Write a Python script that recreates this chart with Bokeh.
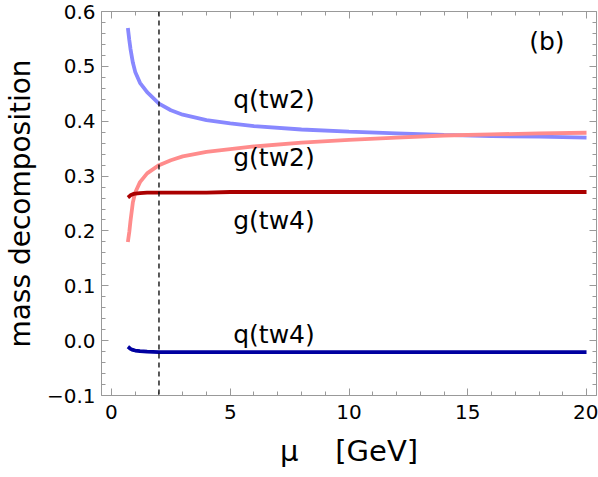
from bokeh.plotting import figure
from bokeh.models import Range1d, SingleIntervalTicker, LinearAxis, Label, Span, CustomJSTickFormatter
from bokeh.embed import file_html
from bokeh.resources import INLINE

# ---- data ----
mu = [0.69, 0.75, 0.8, 0.9, 1.0, 1.2, 1.5, 2.0, 2.5, 3.0, 4.0, 5.0, 6.0, 8.0, 10.0, 12.0, 14.0, 16.0, 18.0, 20.0]
q_tw2 = [0.570, 0.548, 0.532, 0.507, 0.490, 0.470, 0.453, 0.432, 0.420, 0.412, 0.402, 0.396, 0.391, 0.385, 0.381, 0.378, 0.375, 0.373, 0.372, 0.370]
g_tw2 = [0.180, 0.198, 0.218, 0.252, 0.270, 0.289, 0.305, 0.320, 0.329, 0.336, 0.344, 0.349, 0.354, 0.361, 0.366, 0.370, 0.374, 0.376, 0.378, 0.379]
g_tw4 = [0.261, 0.263, 0.265, 0.267, 0.268, 0.269, 0.270, 0.270, 0.270, 0.270, 0.270, 0.271, 0.271, 0.271, 0.271, 0.271, 0.271, 0.271, 0.271, 0.271]
q_tw4 = [-0.011, -0.013, -0.015, -0.017, -0.018, -0.019, -0.020, -0.021, -0.021, -0.021, -0.021, -0.021, -0.021, -0.021, -0.021, -0.021, -0.021, -0.021, -0.021, -0.021]
mu_ref = 2.0
series_names = ["q(tw2)", "g(tw2)", "g(tw4)", "q(tw4)"]
label_pos = [(5.125, 0.440), (5.125, 0.334), (5.125, 0.219), (5.125, 0.012)]
colors = ["#8888FF", "#FF8C8C", "#AA0000", "#0000A0"]
x_title = "\u03bc\u00a0\u00a0\u00a0\u00a0[GeV]"
y_title = "mass decomposition"
panel_tag = "(b)"

FONT = "DejaVu Sans"
GREY = "#999999"

p = figure(width=598, height=475, output_backend="svg", toolbar_location=None,
           x_range=Range1d(-0.42, 20.42), y_range=Range1d(-0.1, 0.6001),
           min_border_left=95, min_border_right=2, min_border_top=11, min_border_bottom=80)
p.grid.visible = False
p.outline_line_color = None
p.background_fill_color = "white"

fmt = CustomJSTickFormatter(code="""
var v = Math.abs(tick) < 1e-9 ? 0 : tick;
return (v < 0 ? '\u2212' : '') + Math.abs(v).toFixed(1);
""")
blank = CustomJSTickFormatter(code="return '';")

def style(ax, show_labels):
    ax.axis_line_color = GREY
    ax.major_tick_line_color = GREY
    ax.minor_tick_line_color = GREY
    ax.major_tick_in = 7
    ax.major_tick_out = 0
    ax.minor_tick_in = 4
    ax.minor_tick_out = 0
    if show_labels:
        ax.major_label_text_font = FONT
        ax.major_label_text_font_size = "20px"
        ax.major_label_text_color = "black"
        ax.axis_label_text_font = FONT
        ax.axis_label_text_font_style = "normal"
        ax.axis_label_text_color = "black"
    else:
        ax.formatter = blank
        ax.major_label_text_font_size = "8px"
        ax.major_label_standoff = 0

p.xaxis.ticker = SingleIntervalTicker(interval=5, num_minor_ticks=5)
p.yaxis.ticker = SingleIntervalTicker(interval=0.1, num_minor_ticks=5)
p.yaxis.formatter = fmt
style(p.xaxis[0], True)
style(p.yaxis[0], True)
p.xaxis[0].major_label_standoff = 9
p.yaxis[0].major_label_standoff = 6
p.xaxis[0].axis_label = x_title
p.xaxis[0].axis_label_text_font_size = "29px"
p.xaxis[0].axis_label_standoff = 12
p.yaxis[0].axis_label = y_title
p.yaxis[0].axis_label_text_font_size = "28px"
p.yaxis[0].axis_label_standoff = 7

top = LinearAxis(ticker=SingleIntervalTicker(interval=5, num_minor_ticks=5))
right = LinearAxis(ticker=SingleIntervalTicker(interval=0.1, num_minor_ticks=5))
style(top, False)
style(right, False)
p.add_layout(top, "above")
p.add_layout(right, "right")

for ys, c in zip([q_tw2, g_tw2, g_tw4, q_tw4], colors):
    p.line(mu, ys, line_color=c, line_width=3.8)

p.add_layout(Span(location=mu_ref, dimension="height", line_color="black",
                  line_dash="5 4", line_width=1.3))

for name, (lx, ly) in zip(series_names, label_pos):
    p.add_layout(Label(x=lx, y=ly, text=name, text_font=FONT, text_font_size="25px",
                       text_align="left", text_baseline="middle", text_color="black"))

p.add_layout(Label(x=18.33, y=0.546, text=panel_tag, text_font=FONT, text_font_size="25px",
                   text_align="center", text_baseline="middle", text_color="black"))

open("out.html", "w").write(file_html(p, INLINE))
